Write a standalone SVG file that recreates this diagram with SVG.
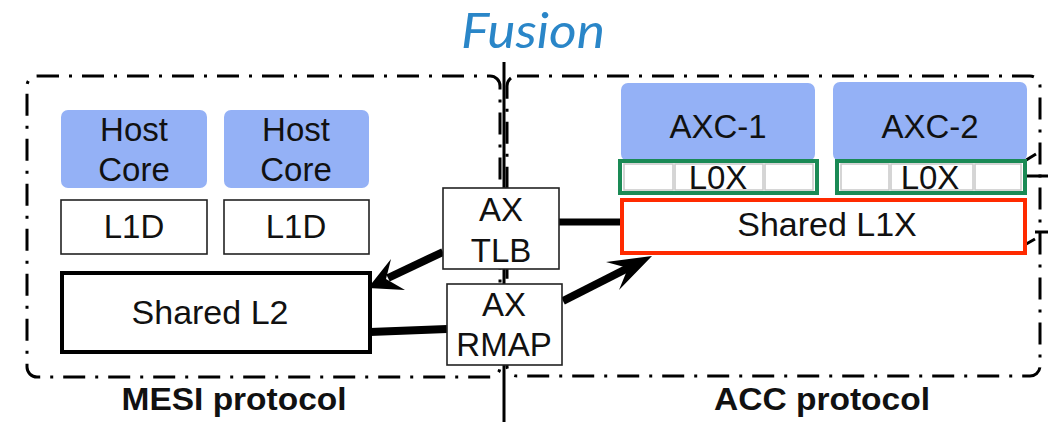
<svg xmlns="http://www.w3.org/2000/svg" width="1051" height="422" viewBox="0 0 1051 422">
<style>
.t{font-family:"Liberation Sans",Arial,sans-serif;fill:#111;text-anchor:middle;font-size:33px}
.core{fill:#94b1f6}
.wb{fill:#fff;stroke:#222;stroke-width:1.6}
.dash{fill:none;stroke:#000;stroke-width:3;stroke-dasharray:22 10 3 10}
.conn{stroke:#000;fill:none;stroke-linecap:butt}
.cell{fill:#fff;stroke:#c8c8c8;stroke-width:1.5}
.lbl{font-weight:bold;font-size:32px}
</style>
<rect width="1051" height="422" fill="#fff"/>
<text x="533" y="48" font-family="Lato,'Open Sans',sans-serif" font-style="italic" font-size="49" fill="#2a86c8" text-anchor="middle" textLength="144" lengthAdjust="spacingAndGlyphs">Fusion</text>

<g id="regions">
<rect class="dash" x="27" y="76" width="473" height="301" rx="10"/>
<rect class="dash" x="507" y="76" width="533" height="300" rx="10"/>
<line x1="504" y1="62" x2="504" y2="422" stroke="#000" stroke-width="3"/>
<path d="M1023 162 L1036 154 M1025 176 L1048 176 M1035 232 L1048 232 M1021 247 L1035 239" stroke="#000" stroke-width="3" fill="none"/>
</g>

<g id="host-core-1"><rect class="core" x="61" y="110" width="146" height="78" rx="7"/>
<text class="t" x="134" y="141">Host</text><text class="t" x="134" y="181">Core</text></g>
<g id="host-core-2"><rect class="core" x="224" y="110" width="145" height="78" rx="7"/>
<text class="t" x="296" y="141">Host</text><text class="t" x="296" y="181">Core</text></g>
<g id="l1d-1"><rect class="wb" x="61" y="200" width="146" height="54"/><text class="t" x="134" y="238">L1D</text></g>
<g id="l1d-2"><rect class="wb" x="224" y="200" width="145" height="54"/><text class="t" x="296" y="238">L1D</text></g>
<g id="shared-l2"><rect x="62" y="273" width="308" height="79" fill="#fff" stroke="#000" stroke-width="4"/><text class="t" x="210" y="324" style="font-size:34px">Shared L2</text></g>

<g id="connectors">
<line class="conn" x1="443" y1="252" x2="388" y2="278" stroke-width="8"/>
<polygon points="368,288 391,259 386,279 405,290" fill="#000"/>
<line class="conn" x1="559" y1="222" x2="622" y2="222" stroke-width="7"/>
<line class="conn" x1="370" y1="332" x2="447" y2="329" stroke-width="8"/>
<line class="conn" x1="563" y1="301" x2="632" y2="266" stroke-width="8"/>
<polygon points="652,256 606,262 628,268 619,290" fill="#000"/>
</g>

<g id="ax-tlb"><rect class="wb" x="443" y="188" width="116" height="81"/>
<text class="t" x="501" y="221">AX</text><text class="t" x="501" y="262">TLB</text></g>
<g id="ax-rmap"><rect class="wb" x="447" y="284" width="115" height="81"/>
<text class="t" x="504" y="316">AX</text><text class="t" x="504" y="356">RMAP</text></g>

<g id="axc-1"><rect class="core" x="621" y="83" width="194" height="78" rx="7"/><text class="t" x="718" y="138">AXC-1</text></g>
<g id="axc-2"><rect class="core" x="833" y="82" width="194" height="79" rx="7"/><text class="t" x="930" y="138">AXC-2</text></g>

<g id="l0x-1"><rect x="620" y="161" width="197" height="32" fill="#fff" stroke="#1a8a55" stroke-width="4"/>
<rect class="cell" x="624" y="164" width="49" height="26"/><rect class="cell" x="675" y="164" width="88" height="26"/><rect class="cell" x="765" y="164" width="48" height="26"/>
<text class="t" x="718" y="189">L0X</text></g>
<g id="l0x-2"><rect x="837" y="161" width="188" height="32" fill="#fff" stroke="#1a8a55" stroke-width="4"/>
<rect class="cell" x="841" y="164" width="48" height="26"/><rect class="cell" x="891" y="164" width="82" height="26"/><rect class="cell" x="975" y="164" width="46" height="26"/>
<text class="t" x="930" y="189">L0X</text></g>
<g id="shared-l1x"><rect x="622" y="200" width="403" height="53" fill="#fff" stroke="#ff2a00" stroke-width="4"/><text class="t" x="827" y="236" style="font-size:34px">Shared L1X</text></g>

<text class="t lbl" x="234" y="410" textLength="225" lengthAdjust="spacingAndGlyphs">MESI protocol</text>
<text class="t lbl" x="822" y="410" textLength="216" lengthAdjust="spacingAndGlyphs">ACC protocol</text>
</svg>
